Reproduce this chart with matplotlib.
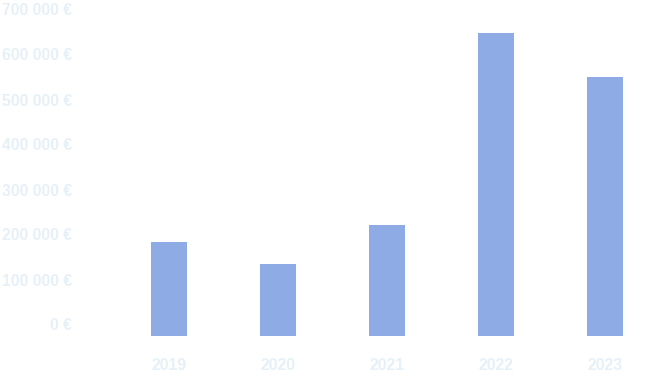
import matplotlib.pyplot as plt
import matplotlib.transforms as mtransforms

# data
years = ["2019", "2020", "2021", "2022", "2023"]
amounts = [209000, 160000, 247000, 673000, 576000]
y_ticks = [0, 100000, 200000, 300000, 400000, 500000, 600000, 700000]
y_labels = ["0 €", "100 000 €", "200 000 €", "300 000 €", "400 000 €",
            "500 000 €", "600 000 €", "700 000 €"]

BAR_COLOR = "#8eabe6"
LABEL_COLOR = "#e6f0f7"

plt.rcParams["font.family"] = ["Liberation Sans", "DejaVu Sans"]

fig = plt.figure(figsize=(6.61, 3.76), dpi=100)
ax = fig.add_axes([114.5 / 661, 40 / 376, 545 / 661, 315 / 376])

x = range(len(years))
ax.bar(x, amounts, width=0.33, color=BAR_COLOR)

ax.set_xlim(-0.5, len(years) - 0.5)
ax.set_ylim(0, 700000)

for s in ax.spines.values():
    s.set_visible(False)
ax.set_xticks([])
ax.set_yticks([])

# y labels sit a bit above their value line
ylab_tf = mtransforms.blended_transform_factory(fig.transFigure, ax.transData)
off = mtransforms.ScaledTranslation(0, 10 / 100, fig.dpi_scale_trans)
for v, lab in zip(y_ticks, y_labels):
    ax.text(72 / 661, v, lab, transform=ylab_tf + off, ha="right", va="center",
            fontsize=11.3, fontweight="bold", color=LABEL_COLOR)

xlab_tf = mtransforms.blended_transform_factory(ax.transData, fig.transFigure)
for i, yr in enumerate(years):
    ax.text(i, 1 - 365 / 376, yr, transform=xlab_tf, ha="center", va="center",
            fontsize=11.3, fontweight="bold", color=LABEL_COLOR)

fig.savefig("out.png", dpi=100)
